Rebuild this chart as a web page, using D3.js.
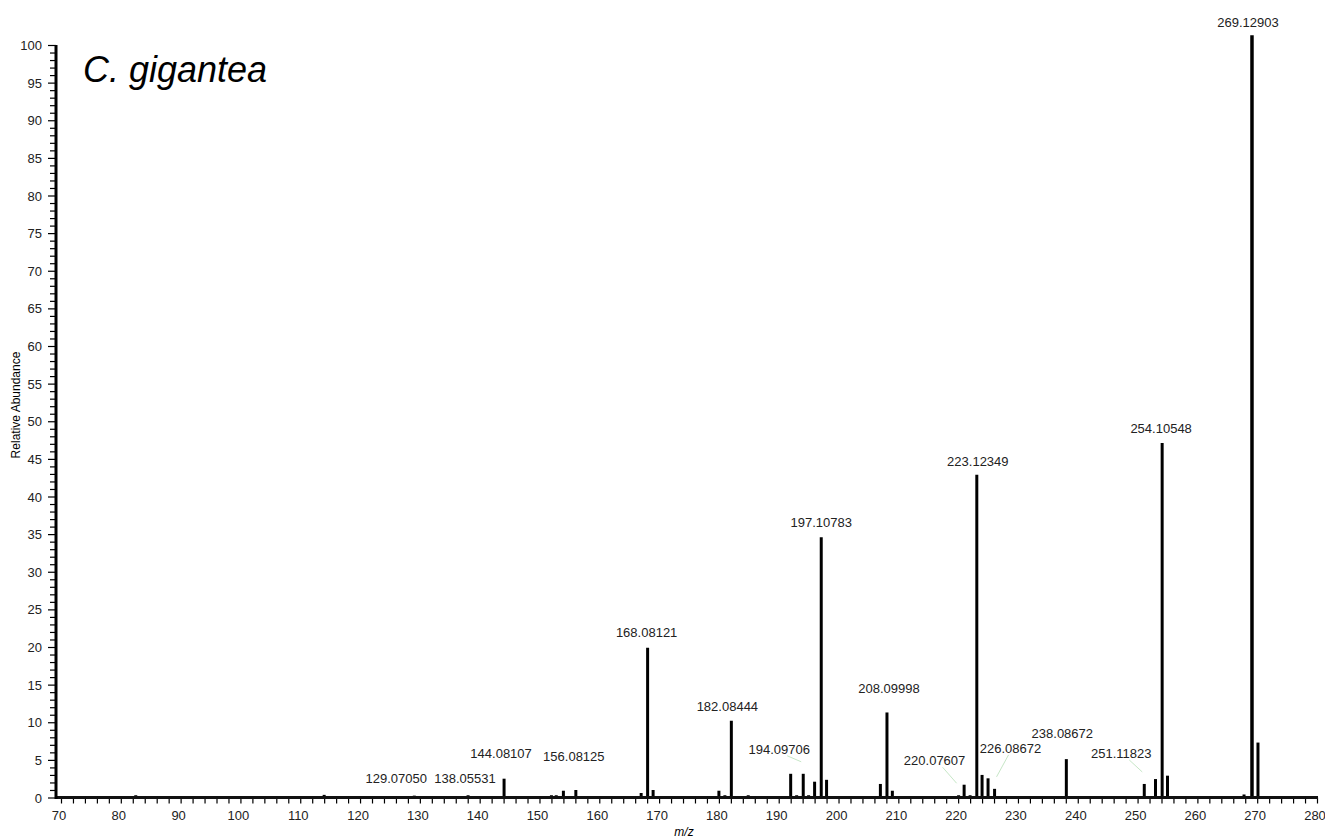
<!DOCTYPE html>
<html>
<head>
<meta charset="utf-8">
<script src="https://cdn.jsdelivr.net/npm/d3@7"></script>
<style>
  body { margin: 0; background: #fff; }
  svg { font-family: "Liberation Sans", Arial, sans-serif; }
</style>
</head>
<body>
<svg id="chart" width="1325" height="838"></svg>
<script>
// peaks (m/z, relative abundance)
var peakMz = [70.1, 82.5, 82.9, 87.1, 97.0, 109.7, 114.0, 120.3, 126.1, 129.07, 135.9, 138.06,
  144.08, 152.0, 152.8, 154.0, 156.08, 167.0, 168.08, 169.0, 180.0, 181.0, 182.08, 184.0, 184.9,
  192.0, 193.0, 194.1, 195.0, 196.0, 197.11, 198.0, 207.0, 208.1, 209.0, 214.1, 220.08, 221.0,
  222.0, 223.12, 224.0, 225.0, 226.09, 238.09, 239.0, 251.12, 253.0, 254.11, 255.0, 267.8,
  269.13, 270.13];
var peakAbundance = [0.2, 0.3, 0.15, 0.1, 0.2, 0.2, 0.35, 0.1, 0.1, 0.25, 0.2, 0.3,
  2.5, 0.3, 0.3, 0.9, 1.0, 0.6, 19.9, 1.0, 0.9, 0.3, 10.2, 0.2, 0.3,
  3.15, 0.3, 3.15, 0.3, 2.1, 34.6, 2.35, 1.8, 11.3, 0.9, 0.1, 0.3, 1.7,
  0.3, 42.9, 3.0, 2.55, 1.15, 5.1, 0.15, 1.8, 2.45, 47.1, 2.9, 0.4,
  101.3, 7.3];

// annotated peaks
var labelMz = [129.07050, 138.05531, 144.08107, 156.08125, 168.08121, 182.08444, 194.09706,
  197.10783, 208.09998, 220.07607, 223.12349, 226.08672, 238.08672, 251.11823, 254.10548, 269.12903];

var xTicks = d3.range(70, 281, 2);
var yTicks = d3.range(0, 101, 1);

// label placement (pixel nudges from the default spot above the peak)
var labelNudge = [
  { dx: -18, dy: -4 }, { dx: -3, dy: -3 }, { dx: -3, dy: -12 }, { dx: -2, dy: -20 },
  { dx: -1, dy: -2 }, { dx: -4, dy: -1 }, { dx: -24, dy: -11, leader: true },
  { dx: 0, dy: -1 }, { dx: 2, dy: -10 }, { dx: -24, dy: -21, leader: true },
  { dx: 1, dy: 0 }, { dx: 16, dy: -27, leader: true }, { dx: -4, dy: -12 },
  { dx: -23, dy: -17, leader: true }, { dx: -1, dy: -1 }, { dx: -4, dy: 1 }
];

var svg = d3.select("#chart");

var x = d3.scaleLinear().domain([70, 280]).range([61, 1317]);
var y = d3.scaleLinear().domain([0, 100]).range([797.5, 45]);

var peaks = peakMz.map(function(m, i) { return { mz: m, ab: peakAbundance[i] }; });

function nearestPeak(m) {
  var best = peaks[0];
  peaks.forEach(function(p) { if (Math.abs(p.mz - m) < Math.abs(best.mz - m)) best = p; });
  return best;
}

// x axis
var xAxis = d3.axisBottom(x)
  .tickValues(xTicks)
  .tickSize(6)
  .tickSizeOuter(0)
  .tickFormat(function(d) { return d % 10 === 0 ? d : ""; });

var gx = svg.append("g")
  .attr("transform", "translate(0," + y(0) + ")")
  .call(xAxis);
gx.select(".domain").remove();
gx.selectAll("line").attr("stroke", "#000").attr("stroke-width", 1.2);
gx.selectAll("text")
  .attr("dy", "1.05em")
  .attr("dx", -2.5)
  .style("font-size", "13px")
  .style("fill", "#222");

// y axis
var yAxis = d3.axisLeft(y)
  .tickValues(yTicks)
  .tickSize(6)
  .tickSizeOuter(0)
  .tickPadding(8)
  .tickFormat(function(d) { return d % 5 === 0 ? d : ""; });

var gy = svg.append("g")
  .attr("transform", "translate(56,0)")
  .call(yAxis);
gy.select(".domain").remove();
gy.selectAll(".tick line")
  .attr("stroke", "#000")
  .attr("stroke-width", 1.2)
  .attr("x2", function(d) { return d % 5 === 0 ? -8 : -6; });
gy.selectAll("text")
  .attr("dy", "0.35em")
  .style("font-size", "13px")
  .style("fill", "#222");

// peaks
svg.append("g")
  .selectAll("line")
  .data(peaks)
  .enter().append("line")
    .attr("x1", function(d) { return x(d.mz); })
    .attr("x2", function(d) { return x(d.mz); })
    .attr("y1", y(0))
    .attr("y2", function(d) { return y(d.ab); })
    .attr("stroke", "#000")
    .attr("stroke-width", function(d) { return d.ab > 90 ? 3.5 : 3; });

// axis lines on top
svg.append("line")
  .attr("x1", 55).attr("x2", 1318)
  .attr("y1", y(0)).attr("y2", y(0))
  .attr("stroke", "#111").attr("stroke-width", 3);
svg.append("line")
  .attr("x1", 56).attr("x2", 56)
  .attr("y1", y(100)).attr("y2", y(0) + 1.5)
  .attr("stroke", "#000").attr("stroke-width", 3);

// labels
var labels = labelMz.map(function(m, i) {
  var p = nearestPeak(m);
  var n = labelNudge[i];
  return {
    text: d3.format(".5f")(m),
    px: x(m), py: y(p.ab),
    lx: x(m) + n.dx, ly: y(p.ab) - 9 + n.dy,
    leader: n.leader
  };
});

svg.append("g")
  .selectAll("line")
  .data(labels.filter(function(d) { return d.leader; }))
  .enter().append("line")
    .attr("x1", function(d) { return d.lx + (d.px > d.lx ? 8 : -2); })
    .attr("y1", function(d) { return d.ly + 2; })
    .attr("x2", function(d) { return d.px - (d.px > d.lx ? 2 : -2); })
    .attr("y2", function(d) { return d.py - 12; })
    .attr("stroke", "#b8e0b8")
    .attr("stroke-width", 0.8);

svg.append("g")
  .selectAll("text")
  .data(labels)
  .enter().append("text")
    .attr("x", function(d) { return d.lx; })
    .attr("y", function(d) { return d.ly; })
    .attr("text-anchor", "middle")
    .style("font-size", "13px")
    .style("fill", "#222")
    .text(function(d) { return d.text; });

// titles
svg.append("text")
  .attr("x", 83).attr("y", 82)
  .style("font-size", "36px")
  .style("font-style", "italic")
  .text("C. gigantea");

svg.append("text")
  .attr("x", 684).attr("y", 836)
  .attr("text-anchor", "middle")
  .style("font-size", "12px")
  .style("font-style", "italic")
  .text("m/z");

svg.append("text")
  .attr("transform", "translate(20,405) rotate(-90)")
  .attr("text-anchor", "middle")
  .style("font-size", "12px")
  .text("Relative Abundance");
</script>
</body>
</html>
